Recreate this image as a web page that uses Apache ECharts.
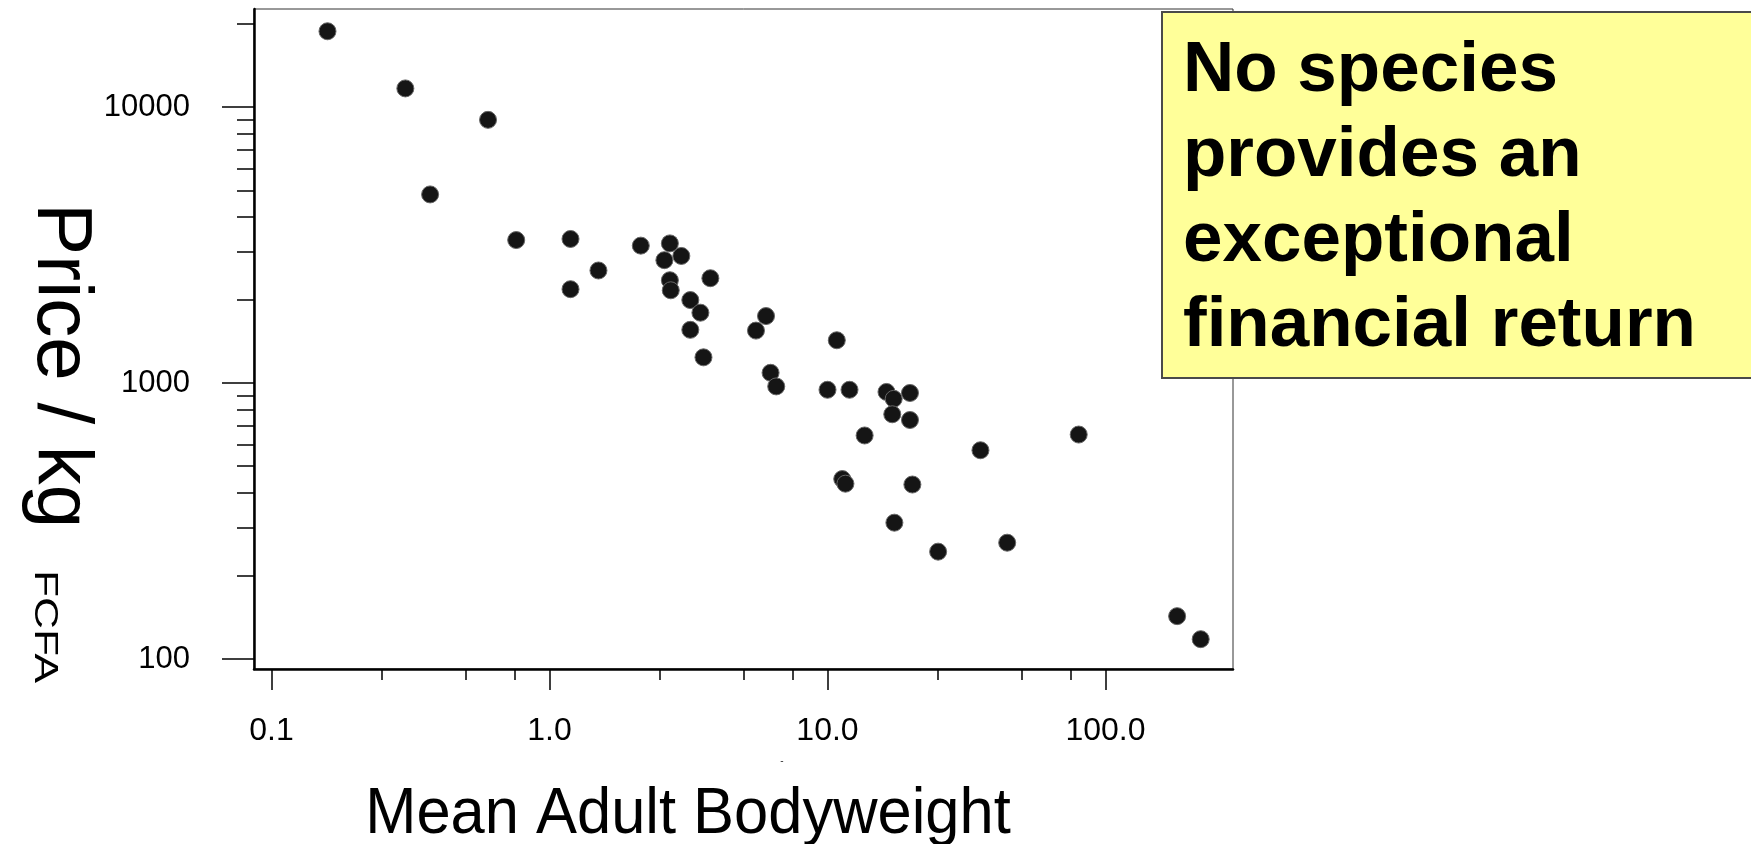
<!DOCTYPE html>
<html>
<head>
<meta charset="utf-8">
<script src="https://cdn.jsdelivr.net/npm/echarts@6/dist/echarts.min.js"></script>
<style>
html,body{margin:0;padding:0;background:#fff;}
#chart{width:1751px;height:844px;}
</style>
</head>
<body>
<div id="chart"></div>
<script>
// Data
const bodyweight = [0.159, 0.303, 0.601, 0.372, 0.759, 1.19, 1.19, 1.50, 2.13, 2.71,
  2.59, 2.98, 2.71, 2.73, 3.21, 3.79, 3.49, 3.21, 3.58, 6.01,
  5.53, 6.24, 6.54, 10.8, 10.0, 12.0, 16.3, 17.3, 19.8, 17.1,
  19.8, 13.6, 35.5, 80.1, 11.3, 11.6, 20.2, 17.4, 25.0, 44.3,
  181, 220];
const price = [18850, 11700, 9000, 4830, 3300, 3330, 2190, 2560, 3150, 3210,
  2790, 2890, 2360, 2170, 2000, 2400, 1800, 1560, 1240, 1750,
  1550, 1090, 973, 1430, 946, 946, 929, 877, 921, 771,
  735, 646, 571, 651, 449, 432, 429, 312, 245, 264,
  143, 118];
const xMajorTicks = [0.1, 1, 10, 100];
const xTickLabels = ['0.1', '1.0', '10.0', '100.0'];
const xMinorTicks = [0.25, 0.5, 0.75, 2.5, 5, 7.5, 25, 50, 75];
const yMajorTicks = [100, 1000, 10000];
const yTickLabels = ['100', '1000', '10000'];
const yMinorTicks = [200, 300, 400, 500, 600, 700, 800, 900,
  2000, 3000, 4000, 5000, 6000, 7000, 8000, 9000, 20000];
const xTitle = 'Mean Adult Bodyweight';
const yTitleMain = 'Price / kg';
const yTitleUnit = 'FCFA';
const noteText = 'No species\nprovides an\nexceptional\nfinancial return';

const FONT = '"Liberation Sans", Arial, sans-serif';
const xMin = 0.0865, xMax = 287.5, yMin = 92, yMax = 22700;

const points = bodyweight.map((x, i) => [x, price[i]]);

function labelFor(ticks, labels) {
  return v => {
    const i = ticks.findIndex(t => Math.abs(Math.log10(t) - Math.log10(v)) < 1e-6);
    return i >= 0 ? labels[i] : '';
  };
}

const chart = echarts.init(document.getElementById('chart'), null, {renderer: 'canvas'});
chart.setOption({
  animation: false,
  backgroundColor: '#ffffff',
  grid: {left: 254, top: 9, right: 518, bottom: 175, show: true,
    borderColor: '#333', borderWidth: 1, backgroundColor: 'transparent'},
  xAxis: [
    {type: 'log', logBase: 10, min: xMin, max: xMax, position: 'bottom',
      axisLine: {show: true, onZero: false, lineStyle: {color: '#000', width: 2.5}},
      axisTick: {show: true, customValues: xMajorTicks, length: 21, lineStyle: {color: '#000', width: 1.5}},
      axisLabel: {show: true, customValues: xMajorTicks, margin: 46,
        fontFamily: FONT, fontSize: 32, color: '#000',
        formatter: labelFor(xMajorTicks, xTickLabels)},
      splitLine: {show: false}, minorTick: {show: false}},
    {type: 'log', logBase: 10, min: xMin, max: xMax, position: 'bottom',
      axisLine: {show: false},
      axisTick: {show: true, customValues: xMinorTicks, length: 11, lineStyle: {color: '#000', width: 1.5}},
      axisLabel: {show: false}, splitLine: {show: false}}
  ],
  yAxis: [
    {type: 'log', logBase: 10, min: yMin, max: yMax, position: 'left',
      axisLine: {show: true, onZero: false, lineStyle: {color: '#000', width: 2.5}},
      axisTick: {show: true, customValues: yMajorTicks, length: 32, lineStyle: {color: '#000', width: 1.5}},
      axisLabel: {show: true, customValues: yMajorTicks, margin: 64,
        fontFamily: FONT, fontSize: 31, color: '#000',
        formatter: labelFor(yMajorTicks, yTickLabels)},
      splitLine: {show: false}},
    {type: 'log', logBase: 10, min: yMin, max: yMax, position: 'left',
      axisLine: {show: false},
      axisTick: {show: true, customValues: yMinorTicks, length: 17, lineStyle: {color: '#000', width: 1.5}},
      axisLabel: {show: false}, splitLine: {show: false}}
  ],
  series: [{
    type: 'scatter', xAxisIndex: 0, yAxisIndex: 0,
    data: points, symbol: 'circle', symbolSize: 17,
    itemStyle: {color: '#151515', borderColor: '#666', borderWidth: 1, opacity: 1},
    z: 3
  }],
  graphic: [
    {type: 'rect', left: 1161, top: 11, z: 100,
      shape: {width: 620, height: 366},
      style: {fill: '#FFFF99', stroke: '#4a4a4a', lineWidth: 2}},
    {type: 'text', x: 1183, y: 29, z: 101,
      style: {text: noteText, fontFamily: FONT, fontWeight: 'bold', fontSize: 71,
        lineHeight: 85, fill: '#000', align: 'left', verticalAlign: 'top'}},
    {type: 'text', x: 688, y: 815, scaleX: 0.96, z: 50,
      style: {text: xTitle, fontFamily: FONT, fontSize: 64, fill: '#000',
        align: 'center', verticalAlign: 'middle'}},
    {type: 'text', x: 60, y: 203, rotation: -Math.PI / 2, z: 50,
      style: {text: yTitleMain, fontFamily: FONT, fontSize: 78, fill: '#000',
        align: 'left', verticalAlign: 'middle'}},
    {type: 'text', x: 44, y: 570, rotation: -Math.PI / 2, scaleX: 1.3, z: 50,
      style: {text: yTitleUnit, fontFamily: FONT, fontSize: 34, fill: '#000',
        align: 'left', verticalAlign: 'middle'}},
    {type: 'text', x: 782, y: 761, z: 50,
      style: {text: '-', fontFamily: FONT, fontSize: 10, fill: '#333',
        align: 'center', verticalAlign: 'middle'}}
  ]
});
</script>
</body>
</html>
